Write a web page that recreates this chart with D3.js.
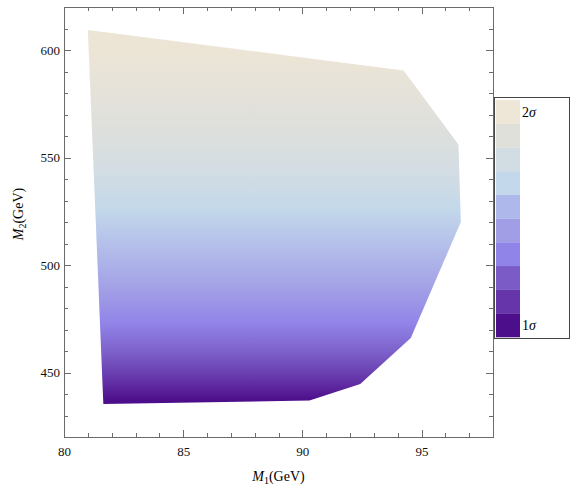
<!DOCTYPE html>
<meta charset="utf-8">
<style>
body {
  margin: 0;
  background-color: #ffffff;
}
text {
  font-family: "Liberation Serif", "Times New Roman", serif;
}
.axis path {
  display: none;
}
.axis line {
  stroke: #6b6b6b;
  stroke-width: 1px;
  shape-rendering: crispEdges;
}
.axis text {
  fill: #111;
  font-size: 13px;
}
</style>
<svg width="581" height="495"></svg>
<script src="https://d3js.org/d3.v7.min.js"></script>
<script>

// region boundary (M1, M2)
var boundaryM1 = [81.0, 94.25, 96.55, 96.65, 94.55, 92.43, 90.3, 81.65];
var boundaryM2 = [609.3, 590.5, 556, 520, 466, 444.7, 437, 435.3];

// colour along M2 inside the region
var gradientM2 = [437, 447, 458, 473, 489, 507, 526, 544, 563, 598];
var gradientColors = ["#4d0e8b", "#6535a9", "#7a5cc6", "#9184e8", "#a3a0e6",
                      "#b2bcea", "#c3d8ea", "#d3dde3", "#dedfdc", "#ece5d6"];

// legend bands, bottom (1 sigma) to top (2 sigma)
var legendColors = ["#4d0e8b", "#6535a9", "#7b5cc6", "#9184e8", "#a29ee6",
                    "#aeb8ea", "#c3d8ea", "#d2dde3", "#e0e0db", "#eee6d6"];
var legendLabels = ["1", "2"];

var xMajor = [80, 85, 90, 95];
var xMinor = d3.range(80, 99, 1);
var yMajor = [450, 500, 550, 600];
var yMinor = d3.range(420, 621, 10);

var svg = d3.select("svg"),
    margin = {top: 7, right: 88, bottom: 58, left: 64},
    width = +svg.attr("width") - margin.left - margin.right,
    height = +svg.attr("height") - margin.top - margin.bottom;

var x = d3.scaleLinear().domain([80, 98]).range([0, width]);
var y = d3.scaleLinear().domain([420, 620]).range([height, 0]);

var g = svg.append("g")
    .attr("transform", "translate(" + margin.left + "," + margin.top + ")");

// gradient
var lo = gradientM2[0], hi = gradientM2[gradientM2.length - 1];
var grad = svg.append("defs").append("linearGradient")
    .attr("id", "sigmaGrad")
    .attr("gradientUnits", "userSpaceOnUse")
    .attr("x1", 0).attr("x2", 0)
    .attr("y1", y(lo)).attr("y2", y(hi));
grad.selectAll("stop")
    .data(gradientM2)
  .enter().append("stop")
    .attr("offset", function(d) { return (d - lo) / (hi - lo); })
    .attr("stop-color", function(d, i) { return gradientColors[i]; });

var pts = boundaryM1.map(function(d, i) { return [x(d), y(boundaryM2[i])]; });
g.append("path")
    .attr("d", d3.line()(pts) + "Z")
    .attr("fill", "url(#sigmaGrad)");

// axes, ticks pointing inward
g.append("g").attr("class", "axis")
    .attr("transform", "translate(0," + height + ")")
    .call(d3.axisBottom(x).tickValues(xMinor).tickSize(-4).tickFormat(""));
g.append("g").attr("class", "axis")
    .attr("transform", "translate(0," + height + ")")
    .call(d3.axisBottom(x).tickValues(xMajor).tickSize(-7).tickPadding(10));
g.append("g").attr("class", "axis")
    .call(d3.axisTop(x).tickValues(xMinor).tickSize(-4).tickFormat(""));
g.append("g").attr("class", "axis")
    .call(d3.axisTop(x).tickValues(xMajor).tickSize(-7).tickFormat(""));

g.append("g").attr("class", "axis")
    .call(d3.axisLeft(y).tickValues(yMinor).tickSize(-4).tickFormat(""));
g.append("g").attr("class", "axis")
    .call(d3.axisLeft(y).tickValues(yMajor).tickSize(-7).tickPadding(4));
g.append("g").attr("class", "axis")
    .attr("transform", "translate(" + width + ",0)")
    .call(d3.axisRight(x === null ? y : y).tickValues(yMinor).tickSize(-4).tickFormat(""));
g.append("g").attr("class", "axis")
    .attr("transform", "translate(" + width + ",0)")
    .call(d3.axisRight(y).tickValues(yMajor).tickSize(-7).tickFormat(""));

// frame
g.append("rect")
    .attr("x", 0.5).attr("y", 0.5)
    .attr("width", width).attr("height", height)
    .attr("fill", "none")
    .attr("stroke", "#6b6b6b")
    .attr("stroke-width", 1)
    .attr("shape-rendering", "crispEdges");

// axis titles
var xt = svg.append("text")
    .attr("x", margin.left + width / 2)
    .attr("y", 481)
    .attr("text-anchor", "middle")
    .attr("font-size", 14);
xt.append("tspan").attr("font-style", "italic").text("M");
xt.append("tspan").attr("font-size", 10).attr("dy", 3).text("1");
xt.append("tspan").attr("dy", -3).text("(GeV)");

var yt = svg.append("text")
    .attr("transform", "translate(23,214) rotate(-90)")
    .attr("text-anchor", "middle")
    .attr("font-size", 14);
yt.append("tspan").attr("font-style", "italic").text("M");
yt.append("tspan").attr("font-size", 10).attr("dy", 3).text("2");
yt.append("tspan").attr("dy", -3).text("(GeV)");

// legend
var lg = svg.append("g").attr("transform", "translate(494,97)");
var bandH = 23.7;
lg.append("rect")
    .attr("x", 0.5).attr("y", 0.5)
    .attr("width", 75).attr("height", 241)
    .attr("fill", "#fff")
    .attr("stroke", "#444")
    .attr("shape-rendering", "crispEdges");
lg.selectAll(".band")
    .data(legendColors)
  .enter().append("rect")
    .attr("class", "band")
    .attr("x", 2)
    .attr("y", function(d, i) { return 3 + (legendColors.length - 1 - i) * bandH; })
    .attr("width", 24)
    .attr("height", bandH + 0.3)
    .attr("fill", function(d) { return d; });
lg.selectAll(".lab")
    .data(legendLabels)
  .enter().append("text")
    .attr("class", "lab")
    .attr("x", 28)
    .attr("y", function(d, i) { return i === 0 ? 233 : 20; })
    .attr("font-size", 14)
    .each(function(d) {
      var t = d3.select(this);
      t.append("tspan").text(d);
      t.append("tspan").attr("font-style", "italic").text("σ");
    });

</script>
